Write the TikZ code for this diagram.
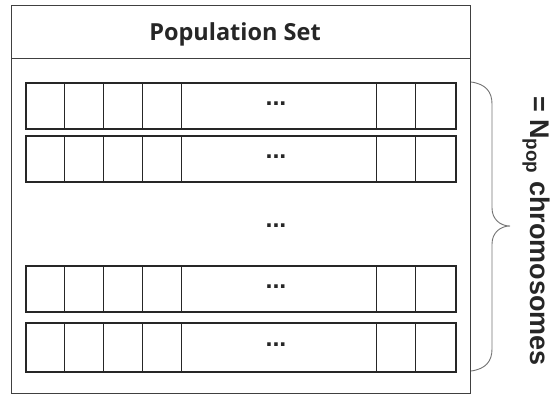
\documentclass[tikz,border=0pt]{standalone}
\usepackage{fontspec}
\setmainfont{Liberation Sans}
\newfontfamily\titlefont{Open Sans}
\usetikzlibrary{calc}
\begin{document}
\begin{tikzpicture}[x=1pt,y=-1pt,
  outerbox/.style={draw=black!75, line width=0.9pt},
  chrom/.style={draw=black!85, line width=2.4pt, minimum width=430pt, inner sep=0pt, anchor=north west},
  cellline/.style={draw=black!85, line width=1pt},
  dotstext/.style={font=\fontsize{25}{25}\selectfont\bfseries, inner sep=0pt, text=black!85},
  bracestyle/.style={draw=black!55, line width=0.9pt}
]
\useasboundingbox (0,0) rectangle (557,394);
% outer box
\node[outerbox, minimum width=459pt, minimum height=388pt, inner sep=0pt, anchor=north west] (outer) at (11,5) {};
\coordinate (hl) at (11,58);
\coordinate (hr) at (470,58);
\draw[outerbox] (hl) -- (hr);
\node[font=\titlefont\fontsize{23.5}{23.5}\selectfont\bfseries, anchor=base, inner sep=0pt, text=black!85] (title) at (235,40.5) {Population Set};
% chromosomes
\foreach \n/\y/\h in {1/82/46, 2/135/46, 3/265/46, 4/322/49}{
  \node[chrom, minimum height=\h pt] (row\n) at (25,\y) {};
  \foreach \xx in {64,103,142,181,376,415}{
    \draw[cellline] (row\n.north west -| \xx,0) -- (row\n.south west -| \xx,0);
  }
  \node[dotstext] (dots\n) at ($(row\n.west)+(251,-3)$) {...};
}
\node[dotstext] (middots) at (276,226) {...};
% brace
\coordinate (bt) at (471,82);
\coordinate (bb) at (471,371);
\coordinate (tip) at (510,226);
\draw[bracestyle] (bt) .. controls (486,84) and (492,92) .. (492,104)
  -- (492,208) .. controls (492,219) and (500,226) .. (tip)
  .. controls (500,226) and (492,233) .. (492,244)
  -- (492,349) .. controls (492,361) and (486,369) .. (bb);
\node[rotate=-90, font=\fontsize{27}{27}\selectfont\bfseries, inner sep=0pt, text=black!85] (label) at (536,231) {= N\textsubscript{pop} chromosomes};
\end{tikzpicture}
\end{document}
